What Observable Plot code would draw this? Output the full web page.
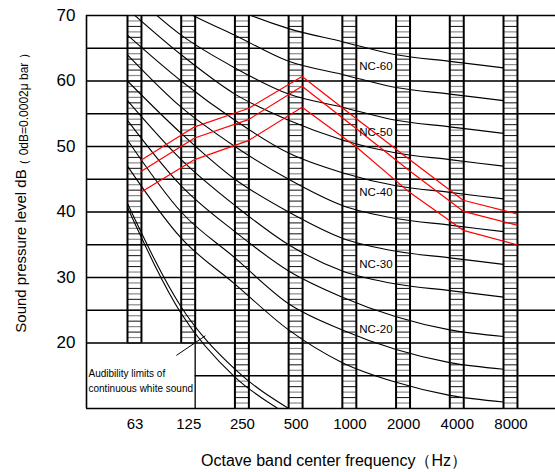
<!DOCTYPE html>
<html><head><meta charset="utf-8">
<script src="https://cdn.jsdelivr.net/npm/d3@7"></script>
<script src="https://cdn.jsdelivr.net/npm/@observablehq/plot@0.6"></script>
<style>
body{margin:0;background:#fff;}
#chart svg{display:block;}
</style>
</head><body><div id="chart"></div>
<script>
// ---- data ----
const bands = ["63","125","250","500","1000","2000","4000","8000"];
const ncNames = ["NC-15","NC-20","NC-25","NC-30","NC-35","NC-40","NC-45","NC-50","NC-55","NC-60","NC-65"];
const nc15 = [47,36,29,22,17,14,12,11];
const nc20 = [51,40,33,26,22,19,17,16];
const nc25 = [54,44,37,31,27,24,22,21];
const nc30 = [57,48,41,35,31,29,28,27];
const nc35 = [60,52,45,40,36,34,33,32];
const nc40 = [64,56,50,45,41,39,38,37];
const nc45 = [67,60,54,49,46,44,43,42];
const nc50 = [71,64,58,54,51,49,48,47];
const nc55 = [74,67,62,58,56,54,53,52];
const nc60 = [77,71,67,63,61,59,58,57];
const nc65 = [80,75,71,68,66,64,63,62];
const ncValues = [nc15,nc20,nc25,nc30,nc35,nc40,nc45,nc50,nc55,nc60,nc65];

const measuredA = [47.9,53.0,55.8,60.7,54.3,48.0,41.8,39.7];
const measuredB = [46.2,51.3,54.1,59.2,52.8,46.3,40.1,38.0];
const measuredC = [43.0,48.0,50.9,56.0,50.0,43.0,37.2,35.0];

const audUpperBand = [0,1,2,3];
const audUpperDb   = [41.3,25.5,16,10];
const audLowerBand = [0,1,2,2.8];
const audLowerDb   = [40.7,24.5,14.8,10];

const ncLabels = ["NC-20","NC-30","NC-40","NC-50","NC-60"];
const ncLabelDb = [22.1,32.0,43.0,52.1,62.3];

const yTicks = [20,30,40,50,60,70];
const gridThin = [25,30,35,45,50,55,65];
const gridThick = [20,40,60];
const audText = "Audibility limits of\ncontinuous white sound";
const pointer = {b1:0.91, db1:18.1, b2:1.45, db2:21.1};

// ---- derived tables ----
const xMin = -0.763, xMax = 7.968, colW = 0.26;
const ncRows = ncNames.flatMap((name,k)=>ncValues[k].map((db,i)=>({name,i,db})));
const redRows = [["A",measuredA],["B",measuredB],["C",measuredC]]
  .flatMap(([s,arr])=>arr.map((db,i)=>({s,i,db})));
const audRows = [
  ...audUpperBand.map((b,k)=>({s:"u",b,db:audUpperDb[k]})),
  ...audLowerBand.map((b,k)=>({s:"l",b,db:audLowerDb[k]}))
];
const cols = bands.map((label,i)=>({i,label,bottom:i<2?20:10}));
const rungs = cols.flatMap(c=>d3.range(0,73).map(k=>({i:c.i,v:70-k*5/6,k})).filter(d=>d.v>=c.bottom-1e-6));
const labelRows = ncLabels.map((t,k)=>({t,db:ncLabelDb[k]}));

const FONT = "Liberation Sans, Arial, Helvetica, sans-serif";

const chart = Plot.plot({
  width:555, height:472,
  marginLeft:86, marginRight:0, marginTop:15, marginBottom:64,
  x:{domain:[xMin,xMax], axis:null},
  y:{domain:[10,70], axis:null},
  style:{fontFamily:FONT, background:"#fff", color:"#000"},
  marks:[
    // grid
    Plot.ruleY(gridThin,{stroke:"#000",strokeWidth:1.3}),
    Plot.ruleY(gridThick,{stroke:"#3a3a3a",strokeWidth:2}),
    Plot.ruleY([15],{x1:1+colW,x2:xMax,stroke:"#000",strokeWidth:1.3}),
    Plot.ruleY([10,70],{stroke:"#000",strokeWidth:1.6}),
    Plot.ruleX([xMin],{y1:10,y2:70,stroke:"#000",strokeWidth:1.6}),
    Plot.ruleX([1+colW],{y1:10,y2:20,stroke:"#000",strokeWidth:1.3}),
    // hatched columns
    Plot.ruleY(rungs.filter(d=>d.k%2===0),{x1:d=>d.i,x2:d=>d.i+colW,y:"v",stroke:"#111",strokeWidth:1}),
    Plot.ruleY(rungs.filter(d=>d.k%2===1),{x1:d=>d.i,x2:d=>d.i+colW,y:"v",stroke:"#8a8a8a",strokeWidth:1.2}),
    Plot.ruleX(cols,{x:d=>d.i,y1:"bottom",y2:70,stroke:"#000",strokeWidth:2}),
    Plot.ruleX(cols,{x:d=>d.i+colW,y1:"bottom",y2:70,stroke:"#000",strokeWidth:2}),
    // NC curves
    Plot.line(ncRows,{x:"i",y:"db",z:"name",curve:"monotone-x",stroke:"#000",strokeWidth:1.1,clip:true}),
    // audibility limits
    Plot.line(audRows,{x:"b",y:"db",z:"s",curve:"monotone-x",stroke:"#000",strokeWidth:1.1,clip:true}),
    Plot.link([pointer],{x1:"b1",y1:"db1",x2:"b2",y2:"db2",stroke:"#000",strokeWidth:1}),
    Plot.text([audText],{x:xMin,y:20,dx:2,dy:23.4,text:d=>d,textAnchor:"start",lineAnchor:"top",lineHeight:1.5,fontSize:10,fill:"#000"}),
    // measured spectra
    Plot.line(redRows,{x:d=>d.i+0.25,y:"db",z:"s",stroke:"#ff0000",strokeWidth:1.2}),
    // NC labels
    Plot.text(labelRows,{x:4+colW,y:"db",dx:3,text:"t",textAnchor:"start",fontSize:11.5,fill:"#000"}),
    // axes
    Plot.axisY({ticks:yTicks,tickSize:0,tickPadding:11,fontSize:17,label:null}),
    Plot.text(cols,{x:d=>d.i+0.14,y:10,dy:16,text:"label",fontSize:15,fill:"#000"})
  ]
});
document.getElementById("chart").append(chart);

const svg = d3.select(chart);
svg.append("text")
  .attr("x",334).attr("y",466)
  .attr("text-anchor","middle")
  .attr("font-size",16).attr("font-family",FONT).attr("fill","#000")
  .text("Octave band center frequency（Hz）");
svg.append("text")
  .attr("transform","translate(25.5,251) rotate(-90)")
  .attr("text-anchor","middle")
  .attr("font-size",15).attr("font-family",FONT).attr("fill","#000")
  .text("Sound pressure level dB");
svg.append("text")
  .attr("transform","translate(27.5,109) rotate(-90)")
  .attr("text-anchor","middle")
  .attr("font-size",12).attr("font-family",FONT).attr("fill","#000")
  .text("（ 0dB=0.0002μ bar ）");
</script>
</body></html>
